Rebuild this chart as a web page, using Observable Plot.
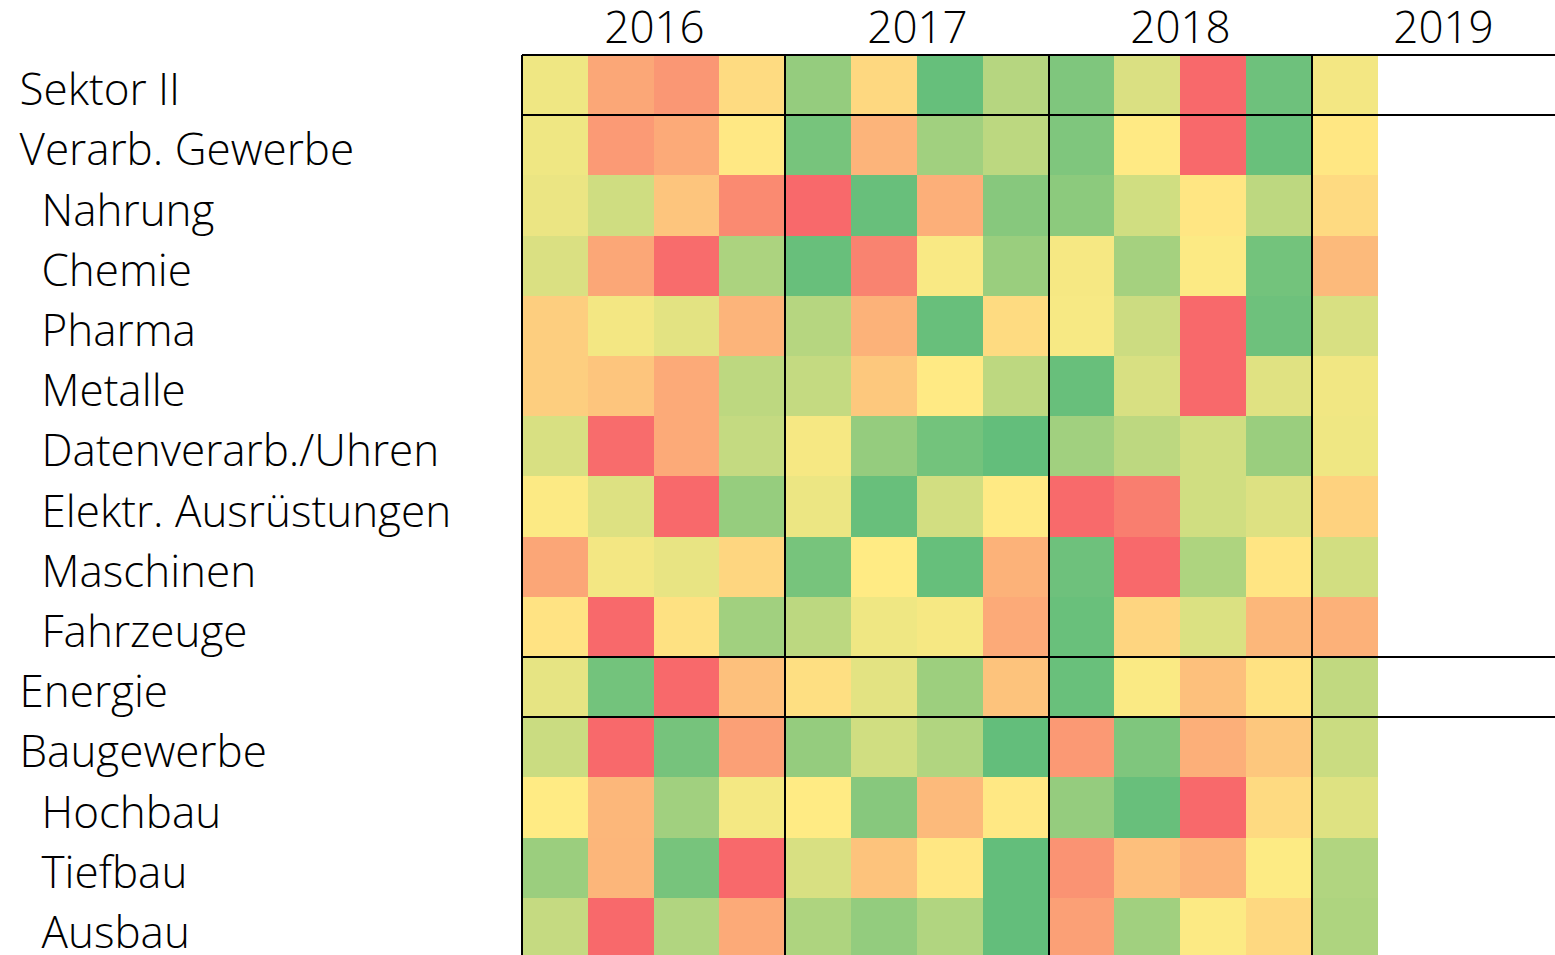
<!DOCTYPE html>
<html>
<head>
<meta charset="utf-8">
<script src="https://cdn.jsdelivr.net/npm/d3@7"></script>
<script src="https://cdn.jsdelivr.net/npm/@observablehq/plot@0.6"></script>
<style>
  html, body { margin: 0; padding: 0; background: #fff; overflow: hidden; }
  #chart svg { display: block; }
</style>
</head>
<body>
<div id="chart"></div>
<script>
// Years and quarters (2019 has only Q1 filled)
const years = ["2016", "2017", "2018", "2019"];
const quarterCount = 16;

// Row labels and indentation level (0 = group, 1 = sub-sector)
const rowLabels = [
  "Sektor II", "Verarb. Gewerbe", "Nahrung", "Chemie", "Pharma", "Metalle",
  "Datenverarb./Uhren", "Elektr. Ausrüstungen", "Maschinen", "Fahrzeuge",
  "Energie", "Baugewerbe", "Hochbau", "Tiefbau", "Ausbau"
];
const rowLevel = [0, 0, 1, 1, 1, 1, 1, 1, 1, 1, 0, 0, 1, 1, 1];

// Rows whose top edge gets a separating line
const separatorRows = [0, 1, 10, 11];

// Relative score per quarter (-1 = worst/red, 0 = neutral/yellow, 1 = best/green), 2016Q1..2019Q1
const sektorII      = [0.10, -0.52, -0.65, -0.12, 0.68, -0.15, 0.98, 0.47, 0.82, 0.24, -1.00, 0.93, 0.08];
const verarbGewerbe = [0.10, -0.62, -0.50, -0.02, 0.87, -0.42, 0.60, 0.43, 0.82, -0.01, -1.00, 0.96, -0.03];
const nahrung       = [0.13, 0.31, -0.29, -0.75, -1.00, 0.97, -0.46, 0.77, 0.74, 0.30, -0.04, 0.42, -0.13];
const chemie        = [0.24, -0.52, -0.98, 0.53, 0.97, -0.80, 0.04, 0.65, 0.06, 0.58, 0.02, 0.90, -0.38];
const pharma        = [-0.22, 0.08, 0.18, -0.42, 0.47, -0.44, 0.97, -0.12, 0.05, 0.33, -1.00, 0.93, 0.25];
const metalle       = [-0.22, -0.29, -0.50, 0.42, 0.38, -0.27, -0.01, 0.42, 0.97, 0.25, -1.00, 0.20, 0.09];
const datenverarb   = [0.25, -0.98, -0.50, 0.38, 0.06, 0.68, 0.90, 1.00, 0.60, 0.42, 0.30, 0.65, 0.10];
const elektr        = [0.02, 0.22, -1.00, 0.67, 0.12, 0.97, 0.29, -0.01, -0.99, -0.84, 0.30, 0.22, -0.19];
const maschinen     = [-0.53, 0.08, 0.15, -0.16, 0.87, 0.00, 0.98, -0.44, 0.93, -1.00, 0.52, -0.05, 0.29];
const fahrzeuge     = [-0.06, -1.00, -0.08, 0.60, 0.43, 0.10, 0.06, -0.50, 0.96, -0.17, 0.23, -0.40, -0.45];
const energie       = [0.16, 0.90, -1.00, -0.33, -0.09, 0.18, 0.63, -0.31, 0.96, 0.03, -0.33, -0.07, 0.40];
const baugewerbe    = [0.34, -1.00, 0.88, -0.58, 0.68, 0.30, 0.50, 1.00, -0.63, 0.82, -0.46, -0.28, 0.34];
const hochbau       = [0.00, -0.40, 0.60, 0.07, 0.00, 0.77, -0.38, -0.02, 0.68, 0.97, -1.00, -0.13, 0.21];
const tiefbau       = [0.64, -0.41, 0.87, -1.00, 0.25, -0.31, -0.03, 1.00, -0.68, -0.34, -0.43, 0.01, 0.50];
const ausbau        = [0.37, -1.00, 0.50, -0.50, 0.52, 0.69, 0.50, 1.00, -0.58, 0.60, 0.02, -0.15, 0.52];

const rowValues = [sektorII, verarbGewerbe, nahrung, chemie, pharma, metalle, datenverarb,
  elektr, maschinen, fahrzeuge, energie, baugewerbe, hochbau, tiefbau, ausbau];

// Build tidy tables for Plot
const cells = rowValues.flatMap((vals, r) => vals.map((v, c) => ({r, c, v})));
const labels = rowLabels.map((name, r) => ({r, name, level: rowLevel[r]}));
const yearData = years.map((year, i) => ({year, mid: i * 4 + 2, start: i * 4}));

const font = "'Open Sans', 'Noto Sans', sans-serif";

const chart = Plot.plot({
  width: 1555,
  height: 955,
  marginLeft: 522,
  marginRight: 0,
  marginTop: 55,
  marginBottom: 0,
  style: {fontFamily: font, background: "#fff"},
  x: {type: "linear", domain: [0, quarterCount], range: [522, 1575], axis: null, round: true},
  y: {type: "linear", domain: [0, rowLabels.length], range: [55, 958], axis: null, round: true},
  color: {type: "linear", domain: [-1, 0, 1], range: ["#F8696B", "#FFEB84", "#63BE7B"], interpolate: "rgb"},
  marks: [
    Plot.rect(cells, {
      x1: "c", x2: d => d.c + 1,
      y1: "r", y2: d => d.r + 1,
      fill: "v"
    }),
    // vertical year separators
    Plot.ruleX(yearData, {x: "start", y1: 0, y2: rowLabels.length, dx: -0.5, stroke: "#000", strokeWidth: 2}),
    // horizontal group separators
    Plot.ruleY(separatorRows, {y: d => d, dy: -0.5, stroke: "#000", strokeWidth: 2}),
    // year labels
    Plot.text(yearData, {
      x: "mid", frameAnchor: "top", lineAnchor: "middle", text: "year", dy: -27,
      fontSize: 44, fontWeight: 300, fill: "#000", fontFamily: font
    }),
    // row labels: groups
    Plot.text(labels.filter(d => d.level === 0), {
      y: d => d.r + 0.5, frameAnchor: "left", textAnchor: "start", dx: -503, dy: 5,
      text: "name", fontSize: 44, fontWeight: 300, fill: "#000", fontFamily: font
    }),
    // row labels: sub-sectors (indented)
    Plot.text(labels.filter(d => d.level === 1), {
      y: d => d.r + 0.5, frameAnchor: "left", textAnchor: "start", dx: -481, dy: 5,
      text: "name", fontSize: 44, fontWeight: 300, fill: "#000", fontFamily: font
    })
  ]
});

document.getElementById("chart").appendChild(chart);
</script>
</body>
</html>
